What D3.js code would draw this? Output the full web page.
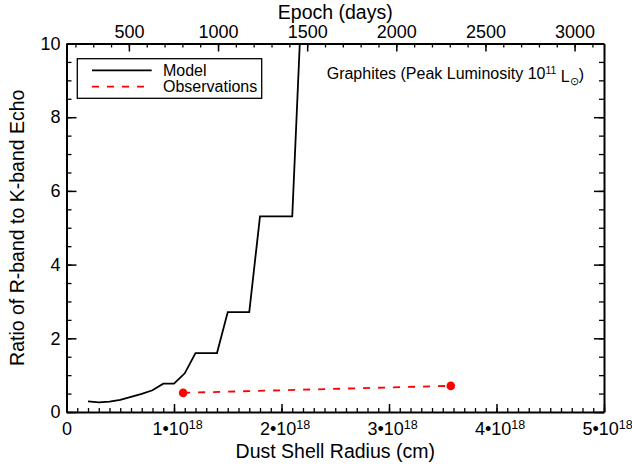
<!DOCTYPE html>
<html>
<head>
<meta charset="utf-8">
<script src="https://cdn.jsdelivr.net/npm/d3@7"></script>
<style>
  body { margin: 0; background: #fff; }
  text { font-family: "Liberation Sans", Arial, sans-serif; fill: #000; }
</style>
</head>
<body>
<div id="chart"></div>
<script>
// radius in units of 1e18 cm
const radiusTicks = [0, 1, 2, 3, 4, 5];
const ratioTicks = [0, 2, 4, 6, 8, 10];
const epochTicks = [500, 1000, 1500, 2000, 2500, 3000];

const modelRadius = [0.2, 0.3, 0.4, 0.5, 0.6, 0.7, 0.8, 0.9, 1.0, 1.1, 1.2, 1.4, 1.5, 1.7, 1.8, 2.1, 2.2];
const modelRatio  = [0.29, 0.26, 0.28, 0.33, 0.41, 0.49, 0.59, 0.77, 0.77, 1.05, 1.6, 1.6, 2.71, 2.71, 5.31, 5.31, 12.0];

const obsRadius = [1.085, 3.575];
const obsRatio  = [0.52, 0.71];

const margin = { top: 43.5, right: 28, bottom: 55, left: 66.5 },
      width = 632 - margin.left - margin.right,
      height = 467 - margin.top - margin.bottom;

const svg = d3.select("#chart")
    .append("svg")
    .attr("width", 632)
    .attr("height", 467)
    .append("g")
    .attr("transform", `translate(${margin.left},${margin.top})`);

const x = d3.scaleLinear().domain([0, 5]).range([0, width]);
const xDays = d3.scaleLinear().domain([150, 3165]).range([0, width]);
const y = d3.scaleLinear().domain([0, 10]).range([height, 0]);

svg.append("defs").append("clipPath").attr("id", "clip")
    .append("rect").attr("width", width).attr("height", height);

// minor ticks
const minorStyle = g => g.call(g => g.select(".domain").remove())
    .selectAll("line").attr("stroke", "#000").attr("stroke-width", 1.3);

svg.append("g").attr("transform", `translate(0,${height})`)
    .call(d3.axisBottom(x).tickValues(d3.range(0, 5.001, 0.1)).tickSize(-4).tickFormat(""))
    .call(minorStyle);
svg.append("g")
    .call(d3.axisTop(xDays).tickValues(d3.range(200, 3101, 100)).tickSize(-4).tickFormat(""))
    .call(minorStyle);
svg.append("g")
    .call(d3.axisLeft(y).tickValues(d3.range(0, 10.001, 0.5)).tickSize(-5).tickFormat(""))
    .call(minorStyle);
svg.append("g").attr("transform", `translate(${width},0)`)
    .call(d3.axisRight(y).tickValues(d3.range(0, 10.001, 0.5)).tickSize(-5).tickFormat(""))
    .call(minorStyle);

// major ticks + frame
const majorStyle = (g, size) => {
    g.select(".domain").attr("stroke", "#000").attr("stroke-width", 2);
    g.selectAll("line").attr("stroke", "#000").attr("stroke-width", 1.5);
    g.selectAll("text").style("font-size", size + "px").attr("fill", "#000");
};

const xAxis = svg.append("g").attr("transform", `translate(0,${height})`)
    .call(d3.axisBottom(x).tickValues(radiusTicks).tickSize(-8).tickSizeOuter(0).tickPadding(10))
    .call(g => majorStyle(g, 18));

xAxis.selectAll("text").each(function(d) {
    const t = d3.select(this).text("");
    if (d === 0) { t.text("0"); return; }
    t.attr("text-anchor", "start").attr("x", -22);
    t.append("tspan").text(d + "\u202210");
    t.append("tspan").attr("dy", "-0.5em").style("font-size", "12.5px").text("18");
});

svg.append("g")
    .call(d3.axisTop(xDays).tickValues(epochTicks).tickSize(-8).tickSizeOuter(0)
        .tickPadding(6).tickFormat(d3.format("d")))
    .call(g => majorStyle(g, 18));

svg.append("g")
    .call(d3.axisLeft(y).tickValues(ratioTicks).tickSize(-10).tickSizeOuter(0).tickPadding(6))
    .call(g => majorStyle(g, 18));

svg.append("g").attr("transform", `translate(${width},0)`)
    .call(d3.axisRight(y).tickValues(ratioTicks).tickSize(-10).tickSizeOuter(0).tickFormat(""))
    .call(g => majorStyle(g, 18));

// model line
const model = modelRadius.map((r, i) => [r, modelRatio[i]]);
svg.append("path")
    .datum(model)
    .attr("clip-path", "url(#clip)")
    .attr("fill", "none")
    .attr("stroke", "#000")
    .attr("stroke-width", 1.8)
    .attr("d", d3.line().x(d => x(d[0])).y(d => y(d[1])));

// observations
const obs = obsRadius.map((r, i) => [r, obsRatio[i]]);
svg.append("path")
    .datum(obs)
    .attr("fill", "none")
    .attr("stroke", "#ff0000")
    .attr("stroke-width", 1.8)
    .attr("stroke-dasharray", "7,8")
    .attr("d", d3.line().x(d => x(d[0])).y(d => y(d[1])));

svg.selectAll(".obs")
    .data(obs)
    .join("circle")
    .attr("class", "obs")
    .attr("cx", d => x(d[0]))
    .attr("cy", d => y(d[1]))
    .attr("r", 4.3)
    .attr("fill", "#ff0000");

// axis titles
svg.append("text")
    .attr("x", width / 2).attr("y", height + 46)
    .attr("text-anchor", "middle")
    .style("font-size", "19.5px")
    .text("Dust Shell Radius (cm)");

svg.append("text")
    .attr("x", width / 2).attr("y", -25)
    .attr("text-anchor", "middle")
    .style("font-size", "19.5px")
    .text("Epoch (days)");

svg.append("text")
    .attr("transform", `translate(${-margin.left + 24},${height / 2}) rotate(-90)`)
    .attr("text-anchor", "middle")
    .style("font-size", "19.5px")
    .text("Ratio of R-band to K-band Echo");

// legend
const legend = svg.append("g").attr("transform", `translate(${77.3 - margin.left},${58.7 - margin.top})`);
legend.append("rect")
    .attr("width", 184.4).attr("height", 39.6)
    .attr("fill", "#fff").attr("stroke", "#000").attr("stroke-width", 1.3);
legend.append("line")
    .attr("x1", 14.7).attr("x2", 74.4).attr("y1", 11.6).attr("y2", 11.6)
    .attr("stroke", "#000").attr("stroke-width", 1.8);
legend.append("line")
    .attr("x1", 14.7).attr("x2", 74.4).attr("y1", 28).attr("y2", 28)
    .attr("stroke", "#ff0000").attr("stroke-width", 1.8).attr("stroke-dasharray", "7,8");
legend.append("text").attr("x", 85.7).attr("y", 17.2).style("font-size", "16px").text("Model");
legend.append("text").attr("x", 85.7).attr("y", 33.6).style("font-size", "16px").text("Observations");

// annotation
const note = svg.append("text")
    .attr("x", 326.7 - margin.left).attr("y", 79 - margin.top)
    .style("font-size", "16px");
note.append("tspan").text("Graphites (Peak Luminosity 10");
note.append("tspan").attr("dy", "-0.5em").style("font-size", "10.5px").text("11");
note.append("tspan").attr("dy", "0.5em").text(" L");
note.append("tspan").attr("dy", "0.3em").style("font-size", "11px").text("\u2299");
note.append("tspan").attr("dy", "-0.3em").text(")");
</script>
</body>
</html>
